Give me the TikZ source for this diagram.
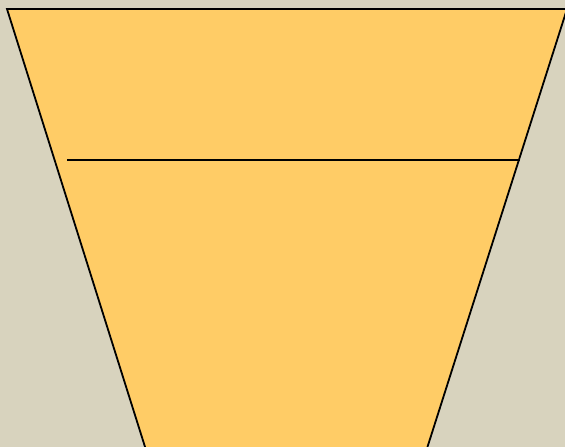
\documentclass[tikz,border=0pt]{standalone}
\begin{document}
\tikzset{every picture/.style={line width=1.8pt}}

\begin{tikzpicture}[x=1pt,y=1pt,yscale=-1,xscale=1]
%Shape: Background Rectangle
\fill [color={rgb, 255:red, 216; green, 211; blue, 190 }] (0,0) rectangle (565,447);
\useasboundingbox (0,0) rectangle (565,447);
%Shape: Trapezoid [id:cup]
\draw [fill={rgb, 255:red, 255; green, 204; blue, 102 }, line join=miter] (7,9) -- (567,9) -- (426.5,450) -- (146,450) -- cycle ;
%Straight Lines [id:level]
\draw (67,160) -- (520,160) ;
\end{tikzpicture}
\end{document}
